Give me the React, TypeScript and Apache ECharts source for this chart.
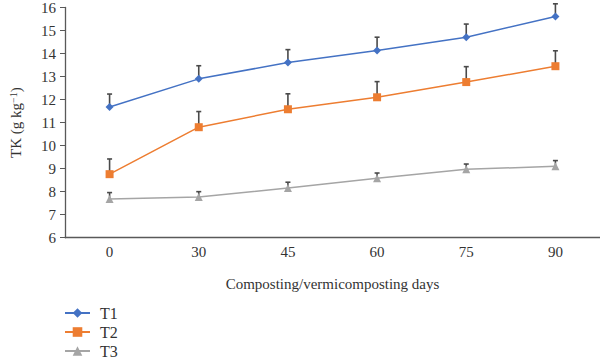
import React, { useEffect, useRef } from "react";
import * as echarts from "echarts";

const days = ["0", "30", "45", "60", "75", "90"];
const t1 = [11.68, 12.9, 13.61, 14.13, 14.71, 15.61];
const t1Err = [0.56, 0.57, 0.56, 0.58, 0.57, 0.55];
const t2 = [8.76, 10.8, 11.58, 12.1, 12.76, 13.45];
const t2Err = [0.66, 0.68, 0.67, 0.68, 0.67, 0.67];
const t3 = [7.68, 7.77, 8.16, 8.58, 8.97, 9.1];
const t3Err = [0.28, 0.23, 0.25, 0.23, 0.23, 0.25];
const seriesNames = ["T1", "T2", "T3"];

const FONT = "Liberation Serif";

function errSeries(vals: number[], errs: number[]) {
  return {
    type: "custom",
    silent: true,
    z: 1,
    data: vals.map((v, i) => [i, v, v + errs[i]]),
    renderItem: (params: any, api: any) => {
      const p0 = api.coord([api.value(0), api.value(1)]);
      const p1 = api.coord([api.value(0), api.value(2)]);
      const style = { stroke: "#4a4a4a", lineWidth: 1.6 };
      return {
        type: "group",
        children: [
          { type: "line", shape: { x1: p0[0], y1: p0[1], x2: p1[0], y2: p1[1] }, style },
          { type: "line", shape: { x1: p1[0] - 2.5, y1: p1[1], x2: p1[0] + 2.5, y2: p1[1] }, style },
        ],
      };
    },
  };
}

const legendTops = [305, 324, 343];

export default function App() {
  const ref = useRef<HTMLDivElement>(null);
  useEffect(() => {
    const chart = echarts.init(ref.current!, null, { renderer: "svg" });
    chart.setOption({
      animation: false,
      textStyle: { fontFamily: FONT },
      grid: { left: 64, right: 0, top: 7.5, bottom: 121.3 },
      legend: seriesNames.map((n, i) => ({
        orient: "vertical",
        left: 64,
        top: legendTops[i],
        itemWidth: 25,
        itemHeight: 12,
        itemGap: 0,
        padding: 0,
        textStyle: { fontFamily: FONT, fontSize: 16, color: "#333", lineHeight: 14, padding: [0, 0, 0, 5] },
        data: [n],
      })),
      xAxis: {
        type: "category",
        data: days,
        boundaryGap: true,
        axisLine: { lineStyle: { color: "#595959", width: 1.3 } },
        axisTick: { show: false },
        axisLabel: { fontFamily: FONT, fontSize: 15, color: "#333", margin: 7 },
        name: "Composting/vermicomposting days",
        nameLocation: "middle",
        nameGap: 39,
        nameTextStyle: { fontFamily: FONT, fontSize: 15, color: "#333" },
      },
      yAxis: {
        type: "value",
        min: 6,
        max: 16,
        interval: 1,
        splitLine: { show: false },
        axisLine: { show: true, lineStyle: { color: "#595959", width: 1.3 } },
        axisTick: { show: true, length: 5, lineStyle: { color: "#595959" } },
        axisLabel: { fontFamily: FONT, fontSize: 15, color: "#333", margin: 9 },
        name: "TK (g kg{sup|−1})",
        nameLocation: "middle",
        nameGap: 42,
        nameTextStyle: {
          fontFamily: FONT,
          fontSize: 15,
          color: "#333",
          rich: { sup: { fontFamily: FONT, fontSize: 10, verticalAlign: "top", color: "#333" } },
        },
      },
      series: [
        errSeries(t1, t1Err),
        errSeries(t2, t2Err),
        errSeries(t3, t3Err),
        {
          name: "T1",
          type: "line",
          data: t1,
          z: 3,
          symbol: "diamond",
          symbolSize: 8,
          itemStyle: { color: "#4472C4" },
          lineStyle: { color: "#4472C4", width: 1.5 },
        },
        {
          name: "T2",
          type: "line",
          data: t2,
          z: 3,
          symbol: "rect",
          symbolSize: 8,
          itemStyle: { color: "#ED7D31" },
          lineStyle: { color: "#ED7D31", width: 1.5 },
        },
        {
          name: "T3",
          type: "line",
          data: t3,
          z: 3,
          symbol: "triangle",
          symbolSize: 8,
          itemStyle: { color: "#A5A5A5" },
          lineStyle: { color: "#A5A5A5", width: 1.5 },
        },
      ],
    });
    return () => chart.dispose();
  }, []);
  return <div ref={ref} style={{ width: 600, height: 359, position: "absolute", left: 0, top: 0 }} />;
}
